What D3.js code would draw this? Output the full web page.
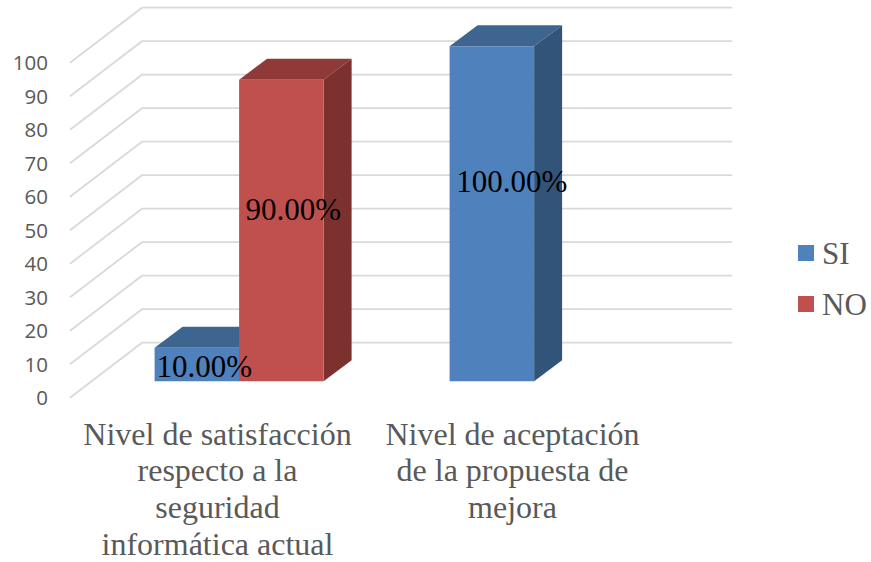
<!DOCTYPE html>
<html><head><meta charset="utf-8">
<script src="https://cdn.jsdelivr.net/npm/d3@7"></script>
<style>html,body{margin:0;padding:0;background:#fff}svg{display:block}</style>
</head><body>
<svg id="chart" width="871" height="562"></svg>
<script>
const categories = ["Nivel de satisfacción respecto a la seguridad informática actual","Nivel de aceptación de la propuesta de mejora"];
const categoryLines = [["Nivel de satisfacción","respecto a la","seguridad","informática actual"],["Nivel de aceptación","de la propuesta de","mejora"]];
const seriesNames = ["SI","NO"];
const siValues = [10,100];
const noValues = [90,null];
const yTicks = [0,10,20,30,40,50,60,70,80,90,100];

const colors = {SI:{front:"#4f81bd",top:"#3e6590",side:"#325479"},NO:{front:"#c0504d",top:"#8f3a38",side:"#7d312f"}};
const valuesBySeries = {SI:siValues,NO:noValues};
const svg = d3.select("#chart");

// Plot geometry: front plane of the chart box, and the depth of the floor
const front = {left:70,right:660,bottom:397.7,top:62.7};
const depth = {dx:72,dy:-55};
const barStart = 0.30, barDepth = {dx:28,dy:-21};

const y = d3.scaleLinear().domain([0,100]).range([front.bottom,front.top]);
const x0 = d3.scaleBand().domain(categories).range([front.left,front.right]);
const x1 = d3.scaleBand().domain(seriesNames).range([0,x0.bandwidth()]).paddingInner(0).paddingOuter(0.7456);

// Gridlines: wall side + back wall
const grid = svg.append("g").attr("fill","none").attr("stroke","#d9d9d9").attr("stroke-width",1.8);
yTicks.forEach(t=>{
  grid.append("path").attr("d",d3.line()([[front.left,y(t)],[front.left+depth.dx,y(t)+depth.dy],[front.right+depth.dx,y(t)+depth.dy]]));
});

// Y axis
const axis = svg.append("g").attr("transform",`translate(${front.left-22},0)`)
  .call(d3.axisLeft(y).tickValues(yTicks).tickSize(0).tickPadding(0));
axis.select(".domain").remove();
axis.selectAll("text").attr("font-family","'Open Sans',sans-serif").attr("font-size",20.5).attr("fill","#595959").attr("dy","0.34em");

// Bars
const ox = barStart*depth.dx, oy = barStart*depth.dy;
const bars = svg.append("g");
seriesNames.forEach(name=>{
  valuesBySeries[name].forEach((v,i)=>{
    if(v===null) return;
    const c = categories[i];
    const xl = x0(c)+x1(name)+ox, xr = xl+x1.bandwidth();
    const yt = y(v)+oy, yb = y(0)+oy;
    const g = bars.append("g");
    const poly=(pts,fill)=>g.append("polygon").attr("points",pts.map(p=>p.join(",")).join(" ")).attr("fill",fill);
    poly([[xl,yt],[xr,yt],[xr+barDepth.dx,yt+barDepth.dy],[xl+barDepth.dx,yt+barDepth.dy]],colors[name].top);
    poly([[xr,yt],[xr+barDepth.dx,yt+barDepth.dy],[xr+barDepth.dx,yb+barDepth.dy],[xr,yb]],colors[name].side);
    poly([[xl,yt],[xr,yt],[xr,yb],[xl,yb]],colors[name].front);
  });
});

// Data labels (drawn above all bars), nudged as in the reference
const labelNudge = {"SI0":[7.5,2],"NO0":[12,-21],"SI1":[20,-32]};
const labels = svg.append("g").attr("font-family","'Liberation Serif',serif").attr("font-size",31).attr("fill","#000").attr("text-anchor","middle");
seriesNames.forEach(name=>{
  valuesBySeries[name].forEach((v,i)=>{
    if(v===null) return;
    const c = categories[i], n = labelNudge[name+i];
    labels.append("text")
      .attr("x",x0(c)+x1(name)+ox+x1.bandwidth()/2+n[0])
      .attr("y",(y(v)+y(0))/2+oy+n[1])
      .attr("dy","0.33em")
      .text(d3.format(".2f")(v)+"%");
  });
});

// Category labels
const catG = svg.append("g").attr("font-family","'Liberation Serif',serif").attr("font-size",32).attr("fill","#595959").attr("text-anchor","middle");
categories.forEach((c,i)=>{
  categoryLines[i].forEach((ln,j)=>{
    catG.append("text").attr("x",x0(c)+x0.bandwidth()/2).attr("y",444.5+j*36.7).text(ln);
  });
});

// Legend
const legend = svg.append("g");
seriesNames.forEach((name,i)=>{
  const yy = 245+i*51;
  legend.append("rect").attr("x",798).attr("y",yy).attr("width",16).attr("height",16).attr("fill",colors[name].front);
  legend.append("text").attr("x",822).attr("y",yy+19).attr("font-family","'Liberation Serif',serif").attr("font-size",31).attr("fill","#595959").text(name);
});
</script>
</body></html>
